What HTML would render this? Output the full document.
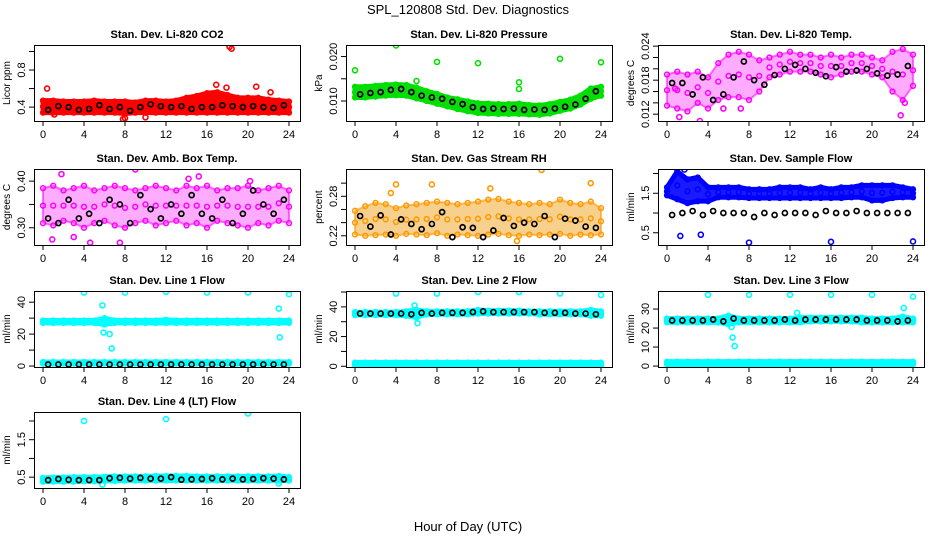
<!DOCTYPE html>
<html><head><meta charset="utf-8"><style>
body{margin:0;background:#fff;}
svg{display:block;font-family:"Liberation Sans",Arial,sans-serif;}
</style></head><body>
<svg id="c" width="936" height="540" viewBox="0 0 936 540">
<text x="468" y="14" text-anchor="middle" font-size="13">SPL_120808  Std. Dev. Diagnostics</text>
<text x="468" y="531" text-anchor="middle" font-size="13">Hour of Day (UTC)</text>
</svg>
<script>
const hoursBand=[0,1,2,3,4,5,6,7,8,9,10,11,12,13,14,15,16,17,18,19,20,21,22,23,24];
const hoursBlack=[0.5,1.5,2.5,3.5,4.5,5.5,6.5,7.5,8.5,9.5,10.5,11.5,12.5,13.5,14.5,15.5,16.5,17.5,18.5,19.5,20.5,21.5,22.5,23.5];
const xTicks=[0,4,8,12,16,20,24];

const co2Lo=[0.34,0.34,0.34,0.34,0.34,0.34,0.34,0.34,0.33,0.34,0.34,0.34,0.34,0.34,0.34,0.34,0.34,0.34,0.34,0.34,0.34,0.34,0.34,0.34,0.34];
const co2Hi=[0.47,0.47,0.46,0.46,0.46,0.47,0.46,0.46,0.46,0.45,0.47,0.47,0.46,0.47,0.50,0.52,0.55,0.56,0.53,0.50,0.50,0.50,0.48,0.47,0.46];
const co2Black=[0.37,0.41,0.40,0.37,0.38,0.42,0.38,0.40,0.36,0.40,0.43,0.41,0.40,0.41,0.38,0.40,0.40,0.42,0.41,0.40,0.41,0.40,0.39,0.42];
const co2OutX=[0.4,16.9,17.9,18.2,18.4,20.8,22.2,7.8,8.0,10.0,1.1];
const co2OutY=[0.60,0.64,0.61,1.05,1.03,0.62,0.56,0.27,0.28,0.29,0.32];

const presLo=[0.0108,0.0108,0.0110,0.0112,0.0113,0.0112,0.0106,0.0100,0.0094,0.0088,0.0082,0.0077,0.0073,0.0072,0.0071,0.0071,0.0071,0.0070,0.0069,0.0072,0.0078,0.0083,0.0092,0.0105,0.0112];
const presHi=[0.0132,0.0132,0.0134,0.0136,0.0137,0.0136,0.0130,0.0122,0.0116,0.0108,0.0104,0.0099,0.0095,0.0094,0.0093,0.0093,0.0094,0.0091,0.0090,0.0093,0.0098,0.0103,0.0112,0.0128,0.0132];
const presBlack=[0.0115,0.0118,0.0120,0.0125,0.0127,0.0120,0.0112,0.0108,0.0105,0.0098,0.0093,0.0086,0.0082,0.0083,0.0082,0.0083,0.0080,0.0081,0.0080,0.0083,0.0087,0.0092,0.0105,0.0122];
const presOutX=[0,4,8,12,16,16,20,24,6];
const presOutY=[0.0169,0.0225,0.0188,0.0185,0.0142,0.0127,0.0195,0.0187,0.0145];

const tempLo=[0.0135,0.0130,0.0125,0.0140,0.0130,0.0145,0.0150,0.0150,0.0145,0.0160,0.0185,0.0190,0.0195,0.0195,0.0195,0.0190,0.0185,0.0190,0.0195,0.0195,0.0190,0.0185,0.0160,0.0145,0.0170];
const tempHi=[0.0190,0.0195,0.0190,0.0195,0.0185,0.0210,0.0225,0.0230,0.0225,0.0215,0.0220,0.0225,0.0230,0.0225,0.0225,0.0220,0.0225,0.0220,0.0225,0.0225,0.0220,0.0215,0.0230,0.0235,0.0225];
const tempBlack=[0.0175,0.0175,0.0155,0.0185,0.0145,0.0155,0.0185,0.0213,0.0180,0.0172,0.0189,0.0200,0.0207,0.0200,0.0193,0.0187,0.0203,0.0195,0.0197,0.0200,0.0192,0.0188,0.0190,0.0205];
const tempOutX=[1.2,3.2,22.8,23.2,0.8,7.2,5.5];
const tempOutY=[0.0115,0.0108,0.0118,0.0140,0.0165,0.0130,0.0130];

const ambLo=[0.310,0.305,0.315,0.310,0.300,0.310,0.315,0.305,0.300,0.310,0.315,0.305,0.310,0.315,0.305,0.310,0.300,0.315,0.310,0.305,0.300,0.310,0.305,0.315,0.310];
const ambHi=[0.385,0.390,0.380,0.385,0.390,0.380,0.385,0.390,0.385,0.380,0.385,0.390,0.385,0.380,0.390,0.385,0.390,0.380,0.385,0.385,0.390,0.380,0.385,0.390,0.380];
const ambBlack=[0.32,0.31,0.36,0.32,0.33,0.31,0.36,0.35,0.31,0.37,0.34,0.32,0.35,0.33,0.37,0.33,0.32,0.36,0.31,0.33,0.38,0.35,0.33,0.36];
const ambOutX=[1.8,9.0,14.2,15.2,0.9,4.6,7.5,3.0,20.2];
const ambOutY=[0.415,0.425,0.405,0.410,0.275,0.268,0.268,0.280,0.400];

const rhLo=[0.222,0.220,0.221,0.222,0.220,0.223,0.222,0.221,0.224,0.220,0.222,0.221,0.220,0.222,0.223,0.221,0.220,0.222,0.221,0.222,0.223,0.220,0.222,0.221,0.222];
const rhHi=[0.258,0.265,0.270,0.268,0.262,0.266,0.268,0.270,0.272,0.270,0.268,0.270,0.272,0.275,0.276,0.272,0.270,0.268,0.270,0.268,0.275,0.270,0.268,0.272,0.262];
const rhBlack=[0.250,0.234,0.251,0.222,0.245,0.238,0.230,0.238,0.256,0.218,0.233,0.232,0.218,0.228,0.247,0.235,0.240,0.238,0.250,0.218,0.246,0.243,0.234,0.232];
const rhOutX=[4.0,13.2,15.8,18.2,23.0,7.5,3.5];
const rhOutY=[0.298,0.292,0.212,0.320,0.300,0.298,0.285];

const flowLo=[1.45,1.35,1.25,1.30,1.30,1.40,1.40,1.40,1.38,1.38,1.38,1.38,1.38,1.38,1.38,1.38,1.38,1.38,1.40,1.40,1.32,1.32,1.38,1.40,1.40];
const flowHi=[1.65,2.05,1.85,1.90,1.65,1.65,1.65,1.65,1.60,1.60,1.60,1.65,1.65,1.65,1.60,1.65,1.60,1.65,1.65,1.70,1.70,1.70,1.70,1.65,1.60];
const flowBlack=[0.95,1.00,1.05,0.95,1.05,1.00,1.00,1.00,0.90,1.00,0.95,1.00,1.00,1.00,0.95,1.05,1.00,1.00,1.05,1.00,1.00,1.00,1.00,1.00];
const flowOutX=[1.3,3.3,8.0,16.0,24.0,1.7];
const flowOutY=[0.42,0.45,0.25,0.27,0.28,2.10];

const l1Lo=[27,27,27,27,27,27,26,27,27,27,27,27,27,27,27,27,27,27,27,27,27,27,27,27,27];
const l1Hi=[28.5,28.5,28.5,28.5,28.5,28.5,30,28.5,28.5,28.5,28.5,28.5,29,28.5,28.5,28.5,28.5,28.5,28.5,28.5,28.5,28.5,28.5,28.5,28.5];
const l1Black=[1,1,1,1,1,1,1,1,1,1,1,1,1,1,1,1,1,1,1,1,1,1,1,1];
const l1OutX=[4,8,12,16,20,24,5.8,23,23.1,6.7,5.9,6.5];
const l1OutY=[46,46,46.5,46,46,45,38,36,18,11,21,20];

const l2Lo=[34.5,34.5,34.5,34.5,34.5,34,33,35,35,35,35,35,35.5,35.5,35.5,35.5,35.5,35.5,35,35,35,35,35,34,34];
const l2Hi=[36.5,36.5,36.5,36.5,36.5,37,38,37,37,37,37,37,38,37.5,37.5,37.5,37.5,37,37,37,37,37,37,38,37];
const l2Black=[35.5,35.5,35.5,35.5,35.5,35,36,35.5,36,36,36,36.5,37,36.5,36.5,36.5,36.5,36.5,36,36,36,35.5,35.5,35];
const l2OutX=[4,8,12,16,20,24,5.8,6.0,6.1,23.3];
const l2OutY=[49,49,50,50,49,48,41,33,29,37];

const l3Lo=[23,23,23,23,23,23,22,23,23,23,23,23,23,23,23.5,23.5,23.5,23.5,23.5,23,23,23,23,23,23];
const l3Hi=[25,25,25,25,25,25,26.5,25,25,25,25,25,25,25.5,25.5,25.5,25.5,25.5,25.5,25.5,25,25,25,26,25];
const l3Black=[24,24,24,24,24.5,23.5,25,24,24,24,24,24.5,24,24.5,24.5,24.5,24.5,24.5,24.5,24,24,24,23.5,24];
const l3OutX=[4,8,12,16,20,24,6.4,6.6,6.3,23.1,12.7];
const l3OutY=[37.5,37.5,37.5,37.5,37.5,36.5,15,10.5,20.5,30.5,28];

const l4Lo=[0.38,0.38,0.38,0.38,0.39,0.39,0.40,0.40,0.41,0.41,0.41,0.41,0.41,0.41,0.41,0.41,0.41,0.41,0.41,0.41,0.41,0.41,0.41,0.41,0.41];
const l4Hi=[0.48,0.49,0.49,0.50,0.50,0.50,0.51,0.52,0.52,0.52,0.52,0.53,0.53,0.53,0.53,0.52,0.52,0.52,0.52,0.52,0.52,0.52,0.52,0.53,0.50];
const l4Black=[0.42,0.45,0.43,0.42,0.42,0.42,0.47,0.48,0.46,0.48,0.46,0.46,0.50,0.43,0.44,0.45,0.47,0.44,0.46,0.44,0.45,0.47,0.46,0.44];
const l4OutX=[4,12,20,5.8,23];
const l4OutY=[2.0,2.05,2.2,0.3,0.33];

const l1LowLo=[1.5,1.5,1.5,1.5,1.5,1.5,1.5,1.5,1.5,1.5,1.5,1.5,1.5,1.5,1.5,1.5,1.5,1.5,1.5,1.5,1.5,1.5,1.5,1.5,1.5];
const l1LowHi=[2.5,2.5,2.5,2.5,2.5,2.5,2.5,2.5,2.5,2.5,2.5,2.5,2.5,2.5,2.5,2.5,2.5,2.5,2.5,2.5,2.5,2.5,2.5,2.5,2.5];
const l2LowLo=[0.3,0.3,0.3,0.3,0.3,0.3,0.3,0.3,0.3,0.3,0.3,0.3,0.3,0.3,0.3,0.3,0.3,0.3,0.3,0.3,0.3,0.3,0.3,0.3,0.3];
const l2LowHi=[2.5,2.5,2.5,2.5,2.5,2.5,2.5,2.5,2.5,2.5,2.5,2.5,2.5,2.5,2.5,2.5,2.5,2.5,2.5,2.5,2.5,2.5,2.5,2.5,2.5];
const l3LowLo=[0.8,0.8,0.8,0.8,0.8,0.8,0.8,0.8,0.8,0.8,0.8,0.8,0.8,0.8,0.8,0.8,0.8,0.8,0.8,0.8,0.8,0.8,0.8,0.8,0.8];
const l3LowHi=[2.3,2.3,2.3,2.3,2.3,2.3,2.3,2.3,2.3,2.3,2.3,2.3,2.3,2.3,2.3,2.3,2.3,2.3,2.3,2.3,2.3,2.3,2.3,2.3,2.3];

const panels=[
 {name:'co2',title:'Stan. Dev. Li-820 CO2',ylab:'Licor ppm',col:0,row:0,ymin:0.25,ymax:1.07,ticks:[0.4,0.6,0.8,1.0],labels:[0.4,0.8],fmt:1,color:'#ff0000',fill:'#ff0000',op:1,lo:co2Lo,hi:co2Hi,black:co2Black,ox:co2OutX,oy:co2OutY},
 {name:'pressure',title:'Stan. Dev. Li-820 Pressure',ylab:'kPa',col:1,row:0,ymin:0.0055,ymax:0.0226,ticks:[0.010,0.015,0.020],labels:[0.010,0.020],fmt:3,color:'#00e000',fill:'#22cc22',op:1,lo:presLo,hi:presHi,black:presBlack,ox:presOutX,oy:presOutY},
 {name:'li820-temp',title:'Stan. Dev. Li-820 Temp.',ylab:'degrees C',col:2,row:0,ymin:0.0108,ymax:0.0242,ticks:[0.012,0.014,0.016,0.018,0.020,0.022,0.024],labels:[0.012,0.018,0.024],fmt:3,color:'#ff00ff',fill:'#ff66ff',op:0.55,lo:tempLo,hi:tempHi,black:tempBlack,ox:tempOutX,oy:tempOutY},
 {name:'amb-box-temp',title:'Stan. Dev. Amb. Box Temp.',ylab:'degrees C',col:0,row:1,ymin:0.263,ymax:0.426,ticks:[0.30,0.35,0.40],labels:[0.30,0.40],fmt:2,color:'#ff00ff',fill:'#ff66ff',op:0.55,lo:ambLo,hi:ambHi,black:ambBlack,ox:ambOutX,oy:ambOutY},
 {name:'gas-stream-rh',title:'Stan. Dev. Gas Stream RH',ylab:'percent',col:1,row:1,ymin:0.206,ymax:0.3215,ticks:[0.22,0.24,0.26,0.28,0.30],labels:[0.22,0.28],fmt:2,color:'#ff9900',fill:'#f0b040',op:0.6,lo:rhLo,hi:rhHi,black:rhBlack,ox:rhOutX,oy:rhOutY},
 {name:'sample-flow',title:'Stan. Dev. Sample Flow',ylab:'ml/min',col:2,row:1,ymin:0.19,ymax:2.115,ticks:[0.5,1.0,1.5,2.0],labels:[0.5,1.5],fmt:1,color:'#0000ff',fill:'#1a1aff',op:1,lo:flowLo,hi:flowHi,black:flowBlack,ox:flowOutX,oy:flowOutY},
 {name:'line1-flow',title:'Stan. Dev. Line 1 Flow',ylab:'ml/min',col:0,row:2,ymin:-0.6,ymax:47,ticks:[0,10,20,30,40],labels:[0,20,40],fmt:0,color:'#00ffff',fill:'#00ffff',op:1,lo:l1Lo,hi:l1Hi,lowLo:l1LowLo,lowHi:l1LowHi,black:l1Black,ox:l1OutX,oy:l1OutY},
 {name:'line2-flow',title:'Stan. Dev. Line 2 Flow',ylab:'ml/min',col:1,row:2,ymin:-0.5,ymax:50.7,ticks:[0,10,20,30,40,50],labels:[0,20,40],fmt:0,color:'#00ffff',fill:'#00ffff',op:1,lo:l2Lo,hi:l2Hi,lowLo:l2LowLo,lowHi:l2LowHi,black:l2Black,ox:l2OutX,oy:l2OutY},
 {name:'line3-flow',title:'Stan. Dev. Line 3 Flow',ylab:'ml/min',col:2,row:2,ymin:-0.5,ymax:39.5,ticks:[0,10,20,30],labels:[0,10,20,30],fmt:0,color:'#00ffff',fill:'#00ffff',op:1,lo:l3Lo,hi:l3Hi,lowLo:l3LowLo,lowHi:l3LowHi,black:l3Black,ox:l3OutX,oy:l3OutY},
 {name:'line4-flow',title:'Stan. Dev. Line 4 (LT) Flow',ylab:'ml/min',col:0,row:3,ymin:0.21,ymax:2.24,ticks:[0.5,1.0,1.5,2.0],labels:[0.5,1.5],fmt:1,color:'#00ffff',fill:'#00ffff',op:1,lo:l4Lo,hi:l4Hi,black:l4Black,ox:l4OutX,oy:l4OutY}
];

const NS='http://www.w3.org/2000/svg';
const svg=document.getElementById('c');
const colLeft=[34,346,658], rowTop=[45,169,291,412], W=266, H=76;
function mk(tag,attrs,parent){const e=document.createElementNS(NS,tag);for(const k in attrs)e.setAttribute(k,attrs[k]);parent.appendChild(e);return e;}

panels.forEach(p=>{
  const L=colLeft[p.col], T=rowTop[p.row];
  const g=mk('g',{},svg);
  
  
  const xs=h=>L+9+h*(W-20)/24;
  const ys=v=>T+H-(v-p.ymin)/(p.ymax-p.ymin)*H;
  const clip='clip-'+p.name;
  const cp=mk('clipPath',{id:clip},g); mk('rect',{x:L,y:T,width:W,height:H},cp);
  const plot=mk('g',{'clip-path':'url(#'+clip+')'},g);
  
  
  function band(lo,hi){
    let pts=hoursBand.map((h,i)=>xs(h)+','+ys(hi[i]));
    pts=pts.concat(hoursBand.map((h,i)=>xs(h)+','+ys(lo[i])).reverse());
    const poly=mk('polygon',{points:pts.join(' '),fill:p.fill,'fill-opacity':p.op,stroke:p.color,'stroke-opacity':p.op,'stroke-width':p.op<1?2:5,'stroke-linejoin':'round'},plot);
    
    
    hoursBand.forEach((h,i)=>{
      [lo[i],hi[i],(lo[i]+hi[i])/2].forEach(v=>{
        const c=mk('circle',{cx:xs(h),cy:ys(v),r:2.4,fill:'none',stroke:p.color,'stroke-width':1.5},plot);
        
        
      });
    });
  }
  band(p.lo,p.hi);
  if(p.lowLo) band(p.lowLo,p.lowHi);
  p.ox.forEach((x,i)=>{
    const c=mk('circle',{cx:xs(x),cy:ys(p.oy[i]),r:2.5,fill:'none',stroke:p.color,'stroke-width':1.6},plot);
    
    
  });
  hoursBlack.forEach((x,i)=>{
    const c=mk('circle',{cx:xs(x),cy:ys(p.black[i]),r:2.5,fill:'none',stroke:'#000','stroke-width':1.7},plot);
    
    
  });
  const box=mk('rect',{x:L+0.5,y:T+0.5,width:W,height:H,fill:'none',stroke:'#000','stroke-width':1},g);
  
  
  const xa=mk('g',{},g);
  
  
  xTicks.forEach(t=>{
    mk('line',{x1:xs(t),x2:xs(t),y1:T+H,y2:T+H+5,stroke:'#000'},xa);
    const tx=mk('text',{x:xs(t),y:T+H+17,'text-anchor':'middle','font-size':11},xa);
    tx.textContent=t;
    
    
  });
  const ya=mk('g',{},g);
  
  
  p.ticks.forEach(t=>{ mk('line',{x1:L-5,x2:L,y1:ys(t),y2:ys(t),stroke:'#000'},ya); });
  p.labels.forEach(t=>{
    const tx=mk('text',{x:L-9,y:ys(t),'text-anchor':'middle','font-size':11,transform:'rotate(-90 '+(L-9)+' '+ys(t)+')'},ya);
    tx.textContent=t.toFixed(p.fmt);
    
    
  });
  const yl=mk('text',{x:L-24,y:T+H/2,'text-anchor':'middle','font-size':10,transform:'rotate(-90 '+(L-24)+' '+(T+H/2)+')'},g);
  yl.textContent=p.ylab;
  
  
  const tt=mk('text',{x:L+W/2,y:T-7,'text-anchor':'middle','font-size':11,'font-weight':'bold'},g);
  tt.textContent=p.title;
  
  
});
</script>
</body></html>
